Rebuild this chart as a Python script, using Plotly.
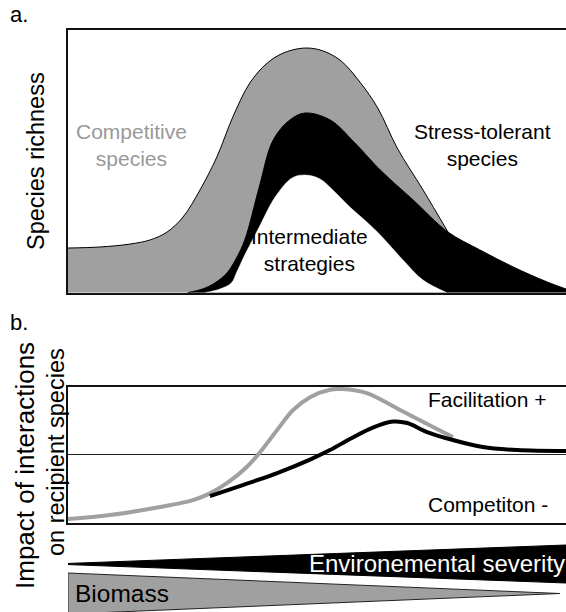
import plotly.graph_objects as go

FONT = "Liberation Sans, Arial, sans-serif"

# ---------------- Panel a: species richness along the gradient (0 = benign, 100 = severe)
total_x = [0, 6.4, 12.4, 16.5, 19.9, 23.1, 26.5, 29.9, 33.1, 36.5, 40.0, 43.2, 47.2,
           50.6, 54.6, 58.6, 62.2, 66.1, 71.3, 76.3]
total_y = [17.0, 17.4, 18.5, 20.1, 23.1, 28.8, 39.1, 51.7, 66.9, 79.8, 87.4, 91.2, 93.1,
           92.4, 88.6, 80.2, 70.3, 55.1, 39.1, 23.1]

stress_x = [24.0, 27.0, 29.5, 31.9, 33.6, 35.5, 38.4, 41.2, 44.6, 47.6, 52.6, 57.6, 62.7, 69.3, 76.3,
            82.7, 89.4, 96.2, 100]
stress_y = [0, 1.4, 3.7, 7.5, 12.4, 20.1, 40.2, 58.1, 65.8, 68.4, 65.8, 57.0, 46.7, 35.3, 23.1,
            16.3, 9.8, 4.1, 1.4]

inter_x = [27.5, 30.5, 32.8, 33.9, 35.3, 38.4, 41.6, 45.0, 47.6, 50.6, 53.6, 56.6, 60.0, 62.7,
           67.3, 71.3, 76.1]
inter_y = [0, 1.4, 3.7, 7.9, 13.6, 25.0, 36.4, 43.7, 44.8, 43.3, 38.3, 32.6, 26.9, 22.0,
           12.4, 4.8, 0]

# ---------------- Panel b: impact of interactions on recipient species (-1 competition, +1 facilitation)
gray_x = [0, 8.4, 18.5, 25.1, 28.5, 31.9, 35.9, 38.6, 42.0, 45.2, 48.6, 52.6, 55.2,
          60.0, 66.7, 73.3, 77.3]
gray_y = [-0.95, -0.89, -0.77, -0.67, -0.57, -0.42, -0.18, 0.04, 0.365, 0.66, 0.85, 0.96, 0.97,
          0.91, 0.66, 0.41, 0.26]

black_x = [28.5, 35.1, 42.0, 48.6, 52.6, 56.6, 61.2, 65.3, 68.1, 72.1, 77.3, 83.3, 90.2, 100]
black_y = [-0.61, -0.447, -0.27, -0.071, 0.069, 0.232, 0.401, 0.49, 0.468, 0.335, 0.217, 0.114, 0.069, 0.055]

region_labels = ["A1", "A2", "B1", "B2"]
region_edges = [0, 27.9, 49.0, 77.3, 100]
region_colors = ["#999999", "#999999", "#000000", "#000000"]

# ---------------- Gradient wedges
wedge_x = [0, 100]
severity_level = [0.0, 1.0]
biomass_x = [0, 98.8]
biomass_level = [1.0, 0.0]

W, H = 566, 612
x_dom = [68 / W, 1.0]
ya_dom = [(H - 292.7) / H, (H - 30) / H]
yb_dom = [(H - 522.5) / H, (H - 387) / H]
yc_dom = [0, 72 / H]

fig = go.Figure()

# Panel a fills (stacked by layering)
fig.add_trace(go.Scatter(x=total_x, y=total_y, mode="lines", line=dict(color="#000000", width=1, shape="spline"),
                         fill="tozeroy", fillcolor="#a0a0a0", xaxis="x", yaxis="y", hoverinfo="skip", showlegend=False))
fig.add_trace(go.Scatter(x=stress_x, y=stress_y, mode="lines", line=dict(color="#000000", width=1, shape="spline"),
                         fill="tozeroy", fillcolor="#000000", xaxis="x", yaxis="y", hoverinfo="skip", showlegend=False))
fig.add_trace(go.Scatter(x=inter_x, y=inter_y, mode="lines", line=dict(color="#ffffff", width=0.5, shape="spline"),
                         fill="tozeroy", fillcolor="#ffffff", xaxis="x", yaxis="y", hoverinfo="skip", showlegend=False))

# Panel b curves
fig.add_trace(go.Scatter(x=gray_x, y=gray_y, mode="lines", line=dict(color="#a0a0a0", width=4, shape="spline"),
                         xaxis="x2", yaxis="y2", hoverinfo="skip", showlegend=False))
fig.add_trace(go.Scatter(x=black_x, y=black_y, mode="lines", line=dict(color="#000000", width=4, shape="spline"),
                         xaxis="x2", yaxis="y2", hoverinfo="skip", showlegend=False))

# Wedges
sev_center, sev_half = 48.0, 19.0
sev_poly_x = wedge_x + wedge_x[::-1] + [wedge_x[0]]
sev_poly_y = ([sev_center + sev_half * max(v, 0.03) for v in severity_level]
              + [sev_center - sev_half * max(v, 0.03) for v in severity_level[::-1]]
              + [sev_center + sev_half * max(severity_level[0], 0.03)])
fig.add_trace(go.Scatter(x=sev_poly_x, y=sev_poly_y, mode="lines", line=dict(color="#000000", width=1),
                         fill="toself", fillcolor="#000000", xaxis="x3", yaxis="y3", hoverinfo="skip", showlegend=False))

bio_center, bio_half = 18.5, 20.5
bio_poly_x = biomass_x + biomass_x[::-1] + [biomass_x[0]]
bio_poly_y = ([bio_center + bio_half * v for v in biomass_level]
              + [bio_center - bio_half * v for v in biomass_level[::-1]]
              + [bio_center + bio_half * biomass_level[0]])
fig.add_trace(go.Scatter(x=bio_poly_x, y=bio_poly_y, mode="lines", line=dict(color="#222222", width=1),
                         fill="toself", fillcolor="#a0a0a0", xaxis="x3", yaxis="y3", hoverinfo="skip", showlegend=False))

annotations = []
# Panel labels
annotations.append(dict(text="a.", x=8 / W, y=(H - 14) / H, xref="paper", yref="paper", xanchor="left",
                        yanchor="middle", showarrow=False, font=dict(size=22, color="#000", family=FONT)))
annotations.append(dict(text="b.", x=8 / W, y=(H - 322) / H, xref="paper", yref="paper", xanchor="left",
                        yanchor="middle", showarrow=False, font=dict(size=22, color="#000", family=FONT)))
# Axis titles
annotations.append(dict(text="Species richness", x=36 / W, y=(H - 161) / H, xref="paper", yref="paper",
                        xanchor="center", yanchor="middle",
                        textangle=-90, showarrow=False, font=dict(size=23.5, color="#000", family=FONT)))
annotations.append(dict(text="Impact of interactions", x=25 / W, y=(H - 466) / H, xref="paper", yref="paper",
                        xanchor="center", yanchor="middle",
                        textangle=-90, showarrow=False, font=dict(size=26, color="#000", family=FONT)))
annotations.append(dict(text="on recipient species", x=56 / W, y=(H - 452) / H, xref="paper", yref="paper",
                        xanchor="center", yanchor="middle",
                        textangle=-90, showarrow=False, font=dict(size=23.5, color="#000", family=FONT)))
# Panel a texts
annotations.append(dict(text="Competitive<br>species", x=12.85, y=56.2, xref="x", yref="y", showarrow=False,
                        font=dict(size=21, color="#999999", family=FONT)))
annotations.append(dict(text="Stress-tolerant<br>species", x=83.3, y=56.2, xref="x", yref="y", showarrow=False,
                        font=dict(size=21, color="#000", family=FONT)))
annotations.append(dict(text="Intermediate<br>strategies", x=48.4, y=16.3, xref="x", yref="y", showarrow=False,
                        font=dict(size=21, color="#000", family=FONT)))
# Panel b texts
annotations.append(dict(text="Facilitation +", x=84.1, y=0.82, xref="x2", yref="y2", showarrow=False,
                        font=dict(size=21, color="#000", family=FONT)))
annotations.append(dict(text="Competiton -", x=84.3, y=-0.74, xref="x2", yref="y2", showarrow=False,
                        font=dict(size=21, color="#000", family=FONT)))
# Region arrows
arrow_y = 1.206
label_y = 1.398
for lab, x0, x1, col in zip(region_labels, region_edges[:-1], region_edges[1:], region_colors):
    annotations.append(dict(text="", x=x1, y=arrow_y, ax=x0, ay=arrow_y, xref="x2", yref="y2",
                            axref="x2", ayref="y2", showarrow=True, arrowhead=2, startarrowhead=2,
                            arrowside="end+start", arrowsize=1.1, startarrowsize=1.1, arrowwidth=2.5,
                            arrowcolor=col))
    annotations.append(dict(text=lab, x=(x0 + x1) / 2, y=label_y, xref="x2", yref="y2", showarrow=False,
                            font=dict(size=21, color=col, family=FONT)))
# Wedge texts
annotations.append(dict(text="Environemental severity", x=48.0, y=49, xref="x3", yref="y3", xanchor="left",
                        showarrow=False, font=dict(size=24, color="#ffffff", family=FONT)))
annotations.append(dict(text="Biomass", x=1.0, y=19, xref="x3", yref="y3", xanchor="left",
                        showarrow=False, font=dict(size=24.5, color="#000", family=FONT)))

axis_common = dict(showgrid=False, zeroline=False, showticklabels=False, ticks="", fixedrange=True)

fig.update_layout(
    width=W, height=H,
    margin=dict(l=0, r=0, t=0, b=0),
    paper_bgcolor="#ffffff", plot_bgcolor="rgba(0,0,0,0)",
    showlegend=False,
    xaxis=dict(domain=x_dom, range=[0, 100], anchor="y", showline=True, mirror=True,
               linecolor="#111111", linewidth=1.5, **axis_common),
    yaxis=dict(domain=ya_dom, range=[0, 100], anchor="x", showline=True, mirror=False,
               linecolor="#111111", linewidth=1.5, **axis_common),
    xaxis2=dict(domain=x_dom, range=[0, 100], anchor="y2", showline=True, mirror=True,
                linecolor="#111111", linewidth=1.5, **axis_common),
    yaxis2=dict(domain=yb_dom, range=[-1, 1], anchor="x2", showline=True, mirror=False,
                linecolor="#111111", linewidth=1.5, showgrid=False, showticklabels=False, ticks="",
                zeroline=True, zerolinecolor="#222222", zerolinewidth=1.2, fixedrange=True),
    xaxis3=dict(domain=x_dom, range=[0, 100], anchor="y3", visible=False, fixedrange=True),
    yaxis3=dict(domain=yc_dom, range=[0, 72], anchor="x3", visible=False, fixedrange=True),
    annotations=annotations,
)

fig.write_html("out.html", config={"displayModeBar": False},
               post_script="document.body.style.margin='0';document.body.style.overflow='hidden';")
